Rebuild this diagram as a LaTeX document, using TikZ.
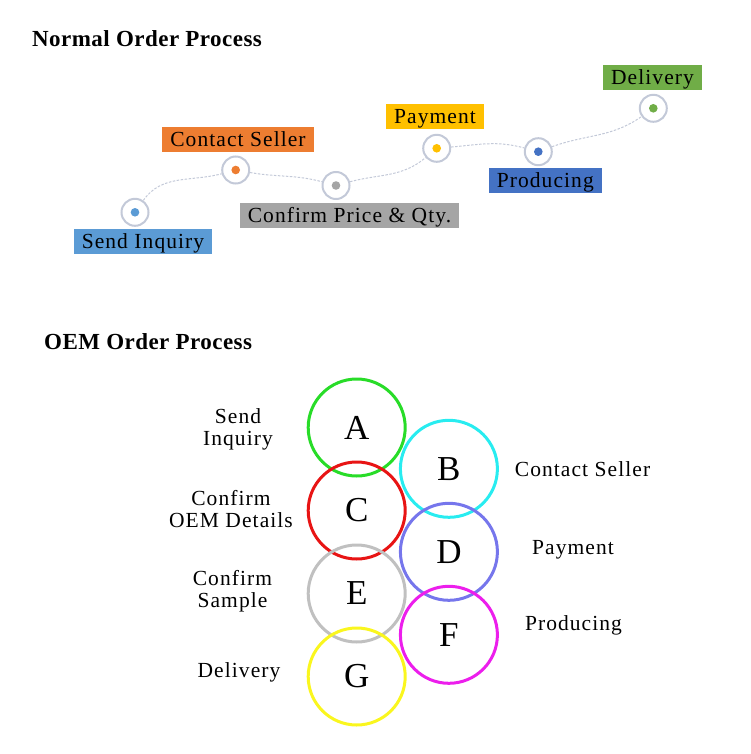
\documentclass[tikz,border=0pt]{standalone}
\usepackage{fontspec}
\setmainfont{Liberation Serif}
\newfontfamily\tagfamily{Liberation Serif}[LetterSpace=5]
\newfontfamily\titlefamily{Liberation Serif}[LetterSpace=2]
\usepackage{xcolor}
\usetikzlibrary{positioning}
\definecolor{sendblue}{HTML}{5B9BD5}
\definecolor{selleror}{HTML}{ED7D31}
\definecolor{pricegray}{HTML}{A5A5A5}
\definecolor{paygold}{HTML}{FFC000}
\definecolor{prodblue}{HTML}{4472C4}
\definecolor{delivgreen}{HTML}{70AD47}
\definecolor{ringgray}{HTML}{C3C9D8}
\definecolor{ringA}{RGB}{40,220,40}
\definecolor{ringB}{RGB}{40,236,240}
\definecolor{ringC}{RGB}{232,20,20}
\definecolor{ringD}{RGB}{118,118,236}
\definecolor{ringE}{RGB}{192,192,192}
\definecolor{ringF}{RGB}{236,30,236}
\definecolor{ringG}{RGB}{250,246,30}
\tikzset{%
	title/.style    = {anchor=base west, inner sep=0pt, font=\titlefamily\bfseries\fontsize{23}{26}\selectfont},
	ring/.style     = {draw=ringgray, fill=white, circle, line width=2pt, minimum size=27pt, inner sep=0pt,
	                   path picture={\fill[#1] (path picture bounding box.center) circle (4.3pt);}}, % step marker
	tag/.style      = {fill=#1, inner xsep=8pt, inner ysep=2pt, text height=17pt, text depth=4pt, font=\tagfamily\fontsize{21.5}{23}\selectfont},
	link/.style     = {draw=ringgray, line width=1pt, dash pattern=on 2.5pt off 1.5pt},
	bubble/.style   = {draw=#1, circle, line width=3pt, minimum size=97pt, inner sep=0pt, font=\fontsize{35}{40}\selectfont},
	caption/.style  = {align=center, inner sep=0pt, font=\tagfamily\fontsize{21.5}{22}\selectfont},
}

\begin{document}
\begin{tikzpicture}[x=1pt,y=-1pt,node distance=83pt]
	\useasboundingbox (0,0) rectangle (750,754);

	% normal order
	\node [title] (tnormal) at (32,47) {Normal Order Process};
	\node [ring=sendblue] (rsend) at (135,212.3) {};
	\node [ring=selleror] (rseller) at (235.7,170) {};
	\node [ring=pricegray] (rprice) at (336,185.5) {};
	\node [ring=paygold] (rpay) at (436.7,148.3) {};
	\node [ring=prodblue] (rprod) at (538.3,151.7) {};
	\node [ring=delivgreen] (rdeliv) at (653.3,108.3) {};

	\node [tag=sendblue] (send) at (143,241.5) {Send Inquiry};
	\node [tag=selleror] (seller) at (238,140) {Contact Seller};
	\node [tag=pricegray] (price) at (349.5,215.8) {Confirm Price \& Qty.};
	\node [tag=paygold] (pay) at (435,116.7) {Payment};
	\node [tag=prodblue] (prod) at (545.3,180.8) {Producing};
	\node [tag=delivgreen] (deliv) at (652.5,78) {Delivery};

	\draw[link] (rsend) to[out=55,in=195] (rseller) to[out=-10,in=165] (rprice)
		to[out=15,in=220] (rpay) to[out=5,in=165] (rprod) to[out=20,in=215] (rdeliv);

	% OEM order
	\node [title] (toem) at (44,349) {OEM Order Process};
	\node [bubble=ringA] (ba) at (356.7,427.5) {A};
	\node [bubble=ringC] (bc) [below of=ba] {C};
	\node [bubble=ringE] (be) [below of=bc] {E};
	\node [bubble=ringG] (bg) [below of=be] {G};
	\node [bubble=ringB] (bb) at (448.9,468.8) {B};
	\node [bubble=ringD] (bd) [below of=bb] {D};
	\node [bubble=ringF] (bf) [below of=bd] {F};

	\node [caption] (ca) at (238,429) {Send\\Inquiry};
	\node [caption] (cc) at (231,509) {Confirm\\OEM Details};
	\node [caption] (ce) at (232.5,591.7) {Confirm\\Sample};
	\node [caption] (cg) at (239,672) {Delivery};
	\node [caption] (cb) at (582.5,469) {Contact Seller};
	\node [caption] (cd) at (573,550) {Payment};
	\node [caption] (cf) at (573.5,625) {Producing};
\end{tikzpicture}
\end{document}
